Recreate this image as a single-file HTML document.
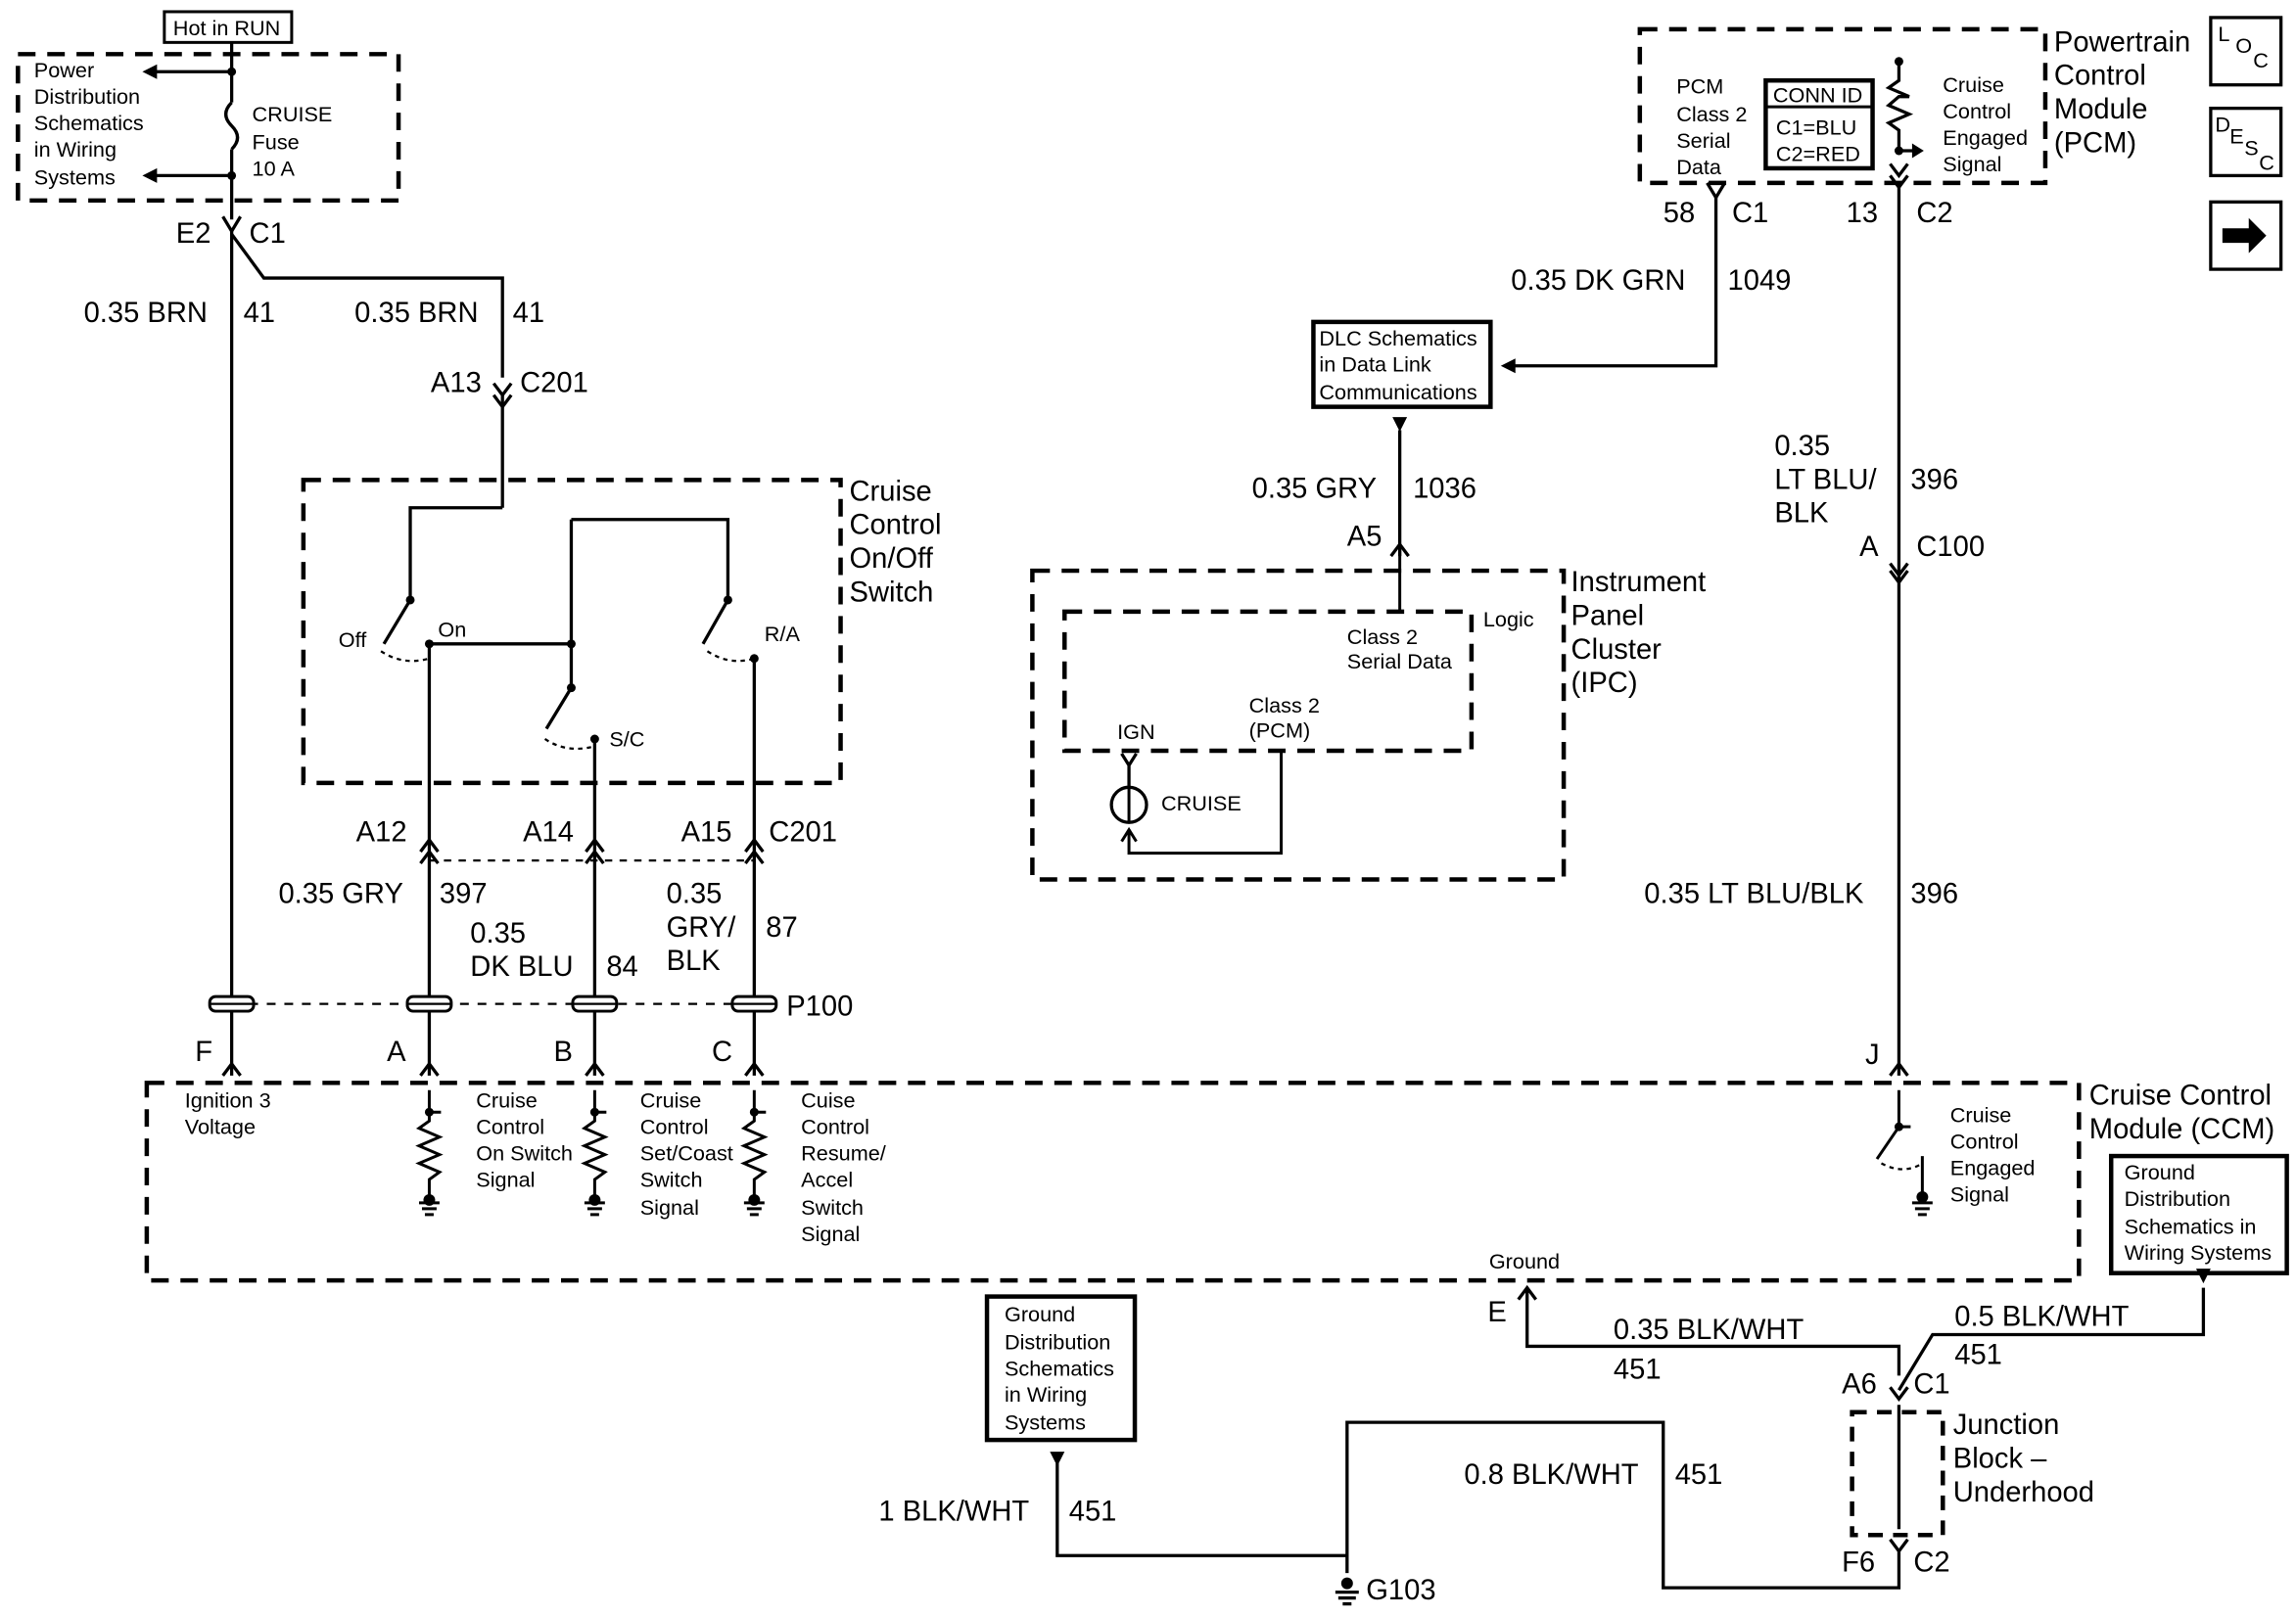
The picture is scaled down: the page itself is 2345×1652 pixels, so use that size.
<!DOCTYPE html>
<html><head><meta charset="utf-8"><style>
html,body{margin:0;padding:0;background:#fff;}
svg{display:block;}
text{font-family:"Liberation Sans",Arial,sans-serif;fill:#000;}
.s{font-size:14.5px;}
.l{font-size:19.5px;}
</style></head><body>
<svg width="2345" height="1652" viewBox="0 0 1568 1105" xmlns="http://www.w3.org/2000/svg">
<g fill="none" stroke="#000" stroke-width="2.2">
<rect x="112" y="8" width="87" height="21" stroke-width="2"/>
<rect x="12" y="37" width="260" height="100" stroke-dasharray="12,8" stroke-width="3"/>
<line x1="158" y1="29" x2="158" y2="70"/>
<path d="M158 70 q-8 8 0 16 q8 8 0 16"/>
<line x1="158" y1="102" x2="158" y2="150"/>
<line x1="158" y1="49" x2="105" y2="49"/>
<line x1="158" y1="120" x2="105" y2="120"/>
<path d="M152 148 l6 10 l6 -10"/>
<line x1="158" y1="158" x2="158" y2="735"/>
<path d="M158 160 L180 190 L343 190 L343 258"/>
<path d="M337 262 l6 8 l6 -8 M337 270 l6 8 l6 -8"/>
<line x1="343" y1="270" x2="343" y2="347"/>
<path d="M343 347 L280 347 L280 410 L262 440"/>
<rect x="207" y="328" width="367" height="207" stroke-dasharray="12,8" stroke-width="3"/>
<path d="M293 440 L293 735"/>
<path d="M260 445 q15 10 33 5" stroke-dasharray="3,3" stroke-width="1.5"/>
<path d="M390 355 L497 355 L497 410 L480 440"/>
<path d="M390 355 L390 470 L373 498"/>
<line x1="293" y1="440" x2="390" y2="440"/>
<path d="M372 505 q15 10 34 5" stroke-dasharray="3,3" stroke-width="1.5"/>
<line x1="406" y1="505" x2="406" y2="735"/>
<path d="M483 445 q15 10 32 5" stroke-dasharray="3,3" stroke-width="1.5"/>
<line x1="515" y1="450" x2="515" y2="735"/>
<path d="M287 582 l6 -8 l6 8 M287 590 l6 -8 l6 8 M400 582 l6 -8 l6 8 M400 590 l6 -8 l6 8 M509 582 l6 -8 l6 8 M509 590 l6 -8 l6 8"/>
<line x1="293" y1="588" x2="515" y2="588" stroke-dasharray="5,5" stroke-width="1.5"/>
<line x1="158" y1="686" x2="515" y2="686" stroke-dasharray="6,6" stroke-width="1.5"/>
<path d="M152 735 l6 -8 l6 8 M287 735 l6 -8 l6 8 M400 735 l6 -8 l6 8 M509 735 l6 -8 l6 8"/>
<rect x="100" y="740" width="1320" height="135" stroke-dasharray="12,8" stroke-width="3"/>
<g stroke-width="2">
<path d="M293 745 L293 760 l8 0 M293 760 l0 6 l-7 5 l14 6 l-14 6 l14 6 l-14 6 l14 6 l-7 5 l0 15"/>
<path d="M406 745 L406 760 l8 0 M406 760 l0 6 l-7 5 l14 6 l-14 6 l14 6 l-14 6 l14 6 l-7 5 l0 15"/>
<path d="M515 745 L515 760 l8 0 M515 760 l0 6 l-7 5 l14 6 l-14 6 l14 6 l-14 6 l14 6 l-7 5 l0 15"/>
<path d="M286 822 h14 M288 826 h10 M290 830 h6 M399 822 h14 M401 826 h10 M403 830 h6 M508 822 h14 M510 826 h10 M512 830 h6"/>
<path d="M1297 745 L1297 770 L1282 792 M1297 770 l8 0"/>
<path d="M1285 795 q15 8 28 0" stroke-dasharray="3,3" stroke-width="1.5"/>
<path d="M1313 790 L1313 815 M1306 822 h14 M1308 826 h10 M1310 830 h6"/>
</g>
<rect x="1120" y="20" width="277" height="105" stroke-dasharray="12,8" stroke-width="3"/>
<rect x="1206" y="55" width="73" height="60" stroke-width="3"/>
<line x1="1206" y1="73" x2="1279" y2="73" stroke-width="2"/>
<path d="M1297 42 L1297 55 l-7 5 l14 6 l-7 0 l-7 6 l14 6 l-14 6 l7 5 l0 15 M1297 103 l10 0"/>
<path d="M1291 112 l6 8 l6 -8 M1291 120 l6 8 l6 -8"/>
<line x1="1297" y1="128" x2="1297" y2="735"/>
<path d="M1166 125 l6 10 l6 -10"/>
<path d="M1172 133 L1172 250 L1033 250"/>
<rect x="897" y="220" width="121" height="58" stroke-width="3"/>
<line x1="956" y1="294" x2="956" y2="380"/>
<path d="M950 380 l6 -8 l6 8"/>
<rect x="705" y="390" width="363" height="211" stroke-dasharray="12,8" stroke-width="3"/>
<rect x="727" y="418" width="278" height="95" stroke-dasharray="12,8" stroke-width="3"/>
<line x1="956" y1="372" x2="956" y2="418" stroke-width="2"/>
<path d="M766 515 l5 8 l5 -8 M771 523 L771 538"/>
<circle cx="771" cy="550" r="12"/>
<path d="M771 538 v24 M766 575 l5 -8 l5 8 M771 567 L771 583 L875 583 L875 513" stroke-width="2"/>
<path d="M1291 390 l6 8 l6 -8 M1291 385 l6 8 l6 -8"/>
<path d="M1291 735 l6 -8 l6 8"/>
<rect x="1510" y="12" width="48" height="46"/>
<rect x="1510" y="74" width="48" height="46"/>
<rect x="1510" y="138" width="48" height="46"/>
<rect x="1442" y="790" width="120" height="80" stroke-width="3"/>
<path d="M1037 888 l6 -8 l6 8 M1043 880 L1043 920 L1297 920 L1297 940"/>
<path d="M1505 880 L1505 912 L1320 912 L1297 950"/>
<path d="M1291 948 l6 8 l6 -8"/>
<rect x="1265" y="965" width="62" height="84" stroke-dasharray="10,7" stroke-width="3"/>
<line x1="1297" y1="960" x2="1297" y2="1045"/>
<path d="M1291 1052 l6 8 l6 -8 M1297 1060 L1297 1085 L1136 1085 L1136 972 L920 972 L920 1075"/>
<rect x="674" y="886" width="101" height="98" stroke-width="3"/>
<path d="M722 1000 L722 1063 L920 1063"/>
<path d="M912 1088 h16 M914 1092 h12 M917 1096 h6"/>
</g>
<g fill="#fff" stroke="#000" stroke-width="2">
<rect x="143" y="681" width="30" height="10" rx="4"/>
<rect x="278" y="681" width="30" height="10" rx="4"/>
<rect x="391" y="681" width="30" height="10" rx="4"/>
<rect x="500" y="681" width="30" height="10" rx="4"/>
</g>
<g stroke="#000" stroke-width="1.5">
<line x1="143" y1="686" x2="173" y2="686"/><line x1="278" y1="686" x2="308" y2="686"/><line x1="391" y1="686" x2="421" y2="686"/><line x1="500" y1="686" x2="530" y2="686"/>
</g>
<g fill="#000">
<circle cx="158" cy="49" r="3"/><circle cx="158" cy="120" r="3"/>
<circle cx="293" cy="440" r="3"/><circle cx="390" cy="440" r="3"/><circle cx="406" cy="505" r="3"/><circle cx="515" cy="450" r="3"/>
<circle cx="280" cy="410" r="3"/><circle cx="497" cy="410" r="3"/><circle cx="390" cy="470" r="3"/>
<circle cx="293" cy="760" r="3"/><circle cx="406" cy="760" r="3"/><circle cx="515" cy="760" r="3"/><circle cx="1297" cy="770" r="3"/><circle cx="1297" cy="103" r="3"/><circle cx="1297" cy="42" r="3"/>
<circle cx="293" cy="820" r="4"/><circle cx="406" cy="820" r="4"/><circle cx="515" cy="820" r="4"/><circle cx="1313" cy="818" r="4"/><circle cx="920" cy="1082" r="4"/>
<path d="M97 49 l10 -5 l0 10z M97 120 l10 -5 l0 10z M1025 250 l10 -5 l0 10z M956 295 l-5 -10 l10 0z M1314 103 l-8 -5 l0 10z M722 1002 l-5 -10 l10 0z M1505 877 l-5 -10 l10 0z"/>
<path d="M1518 156 h18 v-7 l12 12 l-12 12 v-7 h-18z"/>
</g>
<g class="s">
<text x="118" y="24">Hot in RUN</text>
<text x="23" y="53">Power</text><text x="23" y="71">Distribution</text><text x="23" y="89">Schematics</text><text x="23" y="107">in Wiring</text><text x="23" y="126">Systems</text>
<text x="172" y="83">CRUISE</text><text x="172" y="102">Fuse</text><text x="172" y="120">10 A</text>
<text x="231" y="442">Off</text><text x="299" y="435">On</text><text x="522" y="438">R/A</text><text x="416" y="510">S/C</text>
<text x="126" y="757">Ignition 3</text><text x="126" y="775">Voltage</text>
<text x="325" y="757">Cruise</text><text x="325" y="775">Control</text><text x="325" y="793">On Switch</text><text x="325" y="811">Signal</text>
<text x="437" y="757">Cruise</text><text x="437" y="775">Control</text><text x="437" y="793">Set/Coast</text><text x="437" y="811">Switch</text><text x="437" y="830">Signal</text>
<text x="547" y="757">Cuise</text><text x="547" y="775">Control</text><text x="547" y="793">Resume/</text><text x="547" y="811">Accel</text><text x="547" y="830">Switch</text><text x="547" y="848">Signal</text>
<text x="1332" y="767">Cruise</text><text x="1332" y="785">Control</text><text x="1332" y="803">Engaged</text><text x="1332" y="821">Signal</text>
<text x="1017" y="867">Ground</text>
<text x="1451" y="806">Ground</text><text x="1451" y="824">Distribution</text><text x="1451" y="843">Schematics in</text><text x="1451" y="861">Wiring Systems</text>
<text x="686" y="903">Ground</text><text x="686" y="922">Distribution</text><text x="686" y="940">Schematics</text><text x="686" y="958">in Wiring</text><text x="686" y="977">Systems</text>
<text x="1145" y="64">PCM</text><text x="1145" y="83">Class 2</text><text x="1145" y="101">Serial</text><text x="1145" y="119">Data</text>
<text x="1211" y="70">CONN ID</text><text x="1213" y="92">C1=BLU</text><text x="1213" y="110">C2=RED</text>
<text x="1327" y="63">Cruise</text><text x="1327" y="81">Control</text><text x="1327" y="99">Engaged</text><text x="1327" y="117">Signal</text>
<text x="901" y="236">DLC Schematics</text><text x="901" y="254">in Data Link</text><text x="901" y="273">Communications</text>
<text x="1013" y="428">Logic</text>
<text x="920" y="440">Class 2</text><text x="920" y="457">Serial Data</text>
<text x="853" y="487">Class 2</text><text x="853" y="504">(PCM)</text>
<text x="763" y="505">IGN</text><text x="793" y="554">CRUISE</text>
<text x="1515" y="28">L</text><text x="1527" y="36">O</text><text x="1539" y="46">C</text>
<text x="1513" y="90">D</text><text x="1523" y="98">E</text><text x="1533" y="106">S</text><text x="1543" y="116">C</text>
</g>
<g class="l">
<text x="120" y="166">E2</text><text x="170" y="166">C1</text>
<text x="57" y="220">0.35 BRN</text><text x="166" y="220">41</text>
<text x="242" y="220">0.35 BRN</text><text x="350" y="220">41</text>
<text x="294" y="268">A13</text><text x="355" y="268">C201</text>
<text x="580" y="342">Cruise</text><text x="580" y="365">Control</text><text x="580" y="388">On/Off</text><text x="580" y="411">Switch</text>
<text x="243" y="575">A12</text><text x="357" y="575">A14</text><text x="465" y="575">A15</text><text x="525" y="575">C201</text>
<text x="190" y="617">0.35 GRY</text><text x="300" y="617">397</text>
<text x="321" y="644">0.35</text><text x="321" y="667">DK BLU</text><text x="414" y="667">84</text>
<text x="455" y="617">0.35</text><text x="455" y="640">GRY/</text><text x="455" y="663">BLK</text><text x="523" y="640">87</text>
<text x="537" y="694">P100</text>
<text x="133" y="725">F</text><text x="264" y="725">A</text><text x="378" y="725">B</text><text x="486" y="725">C</text>
<text x="1403" y="35">Powertrain</text><text x="1403" y="58">Control</text><text x="1403" y="81">Module</text><text x="1403" y="104">(PCM)</text>
<text x="1136" y="152">58</text><text x="1183" y="152">C1</text><text x="1261" y="152">13</text><text x="1309" y="152">C2</text>
<text x="1032" y="198">0.35 DK GRN</text><text x="1180" y="198">1049</text>
<text x="855" y="340">0.35 GRY</text><text x="965" y="340">1036</text>
<text x="920" y="373">A5</text>
<text x="1073" y="404">Instrument</text><text x="1073" y="427">Panel</text><text x="1073" y="450">Cluster</text><text x="1073" y="473">(IPC)</text>
<text x="1212" y="311">0.35</text><text x="1212" y="334">LT BLU/</text><text x="1212" y="357">BLK</text><text x="1305" y="334">396</text>
<text x="1270" y="380">A</text><text x="1309" y="380">C100</text>
<text x="1123" y="617">0.35 LT BLU/BLK</text><text x="1305" y="617">396</text>
<text x="1274" y="727">J</text>
<text x="1427" y="755">Cruise Control</text><text x="1427" y="778">Module (CCM)</text>
<text x="1016" y="903">E</text>
<text x="1102" y="915">0.35 BLK/WHT</text><text x="1102" y="942">451</text>
<text x="1335" y="906">0.5 BLK/WHT</text><text x="1335" y="932">451</text>
<text x="1258" y="952">A6</text><text x="1307" y="952">C1</text>
<text x="1334" y="980">Junction</text><text x="1334" y="1003">Block –</text><text x="1334" y="1026">Underhood</text>
<text x="1000" y="1014">0.8 BLK/WHT</text><text x="1144" y="1014">451</text>
<text x="1258" y="1074">F6</text><text x="1307" y="1074">C2</text>
<text x="600" y="1039">1 BLK/WHT</text><text x="730" y="1039">451</text>
<text x="933" y="1093">G103</text>
</g>
</svg>
</body></html>
